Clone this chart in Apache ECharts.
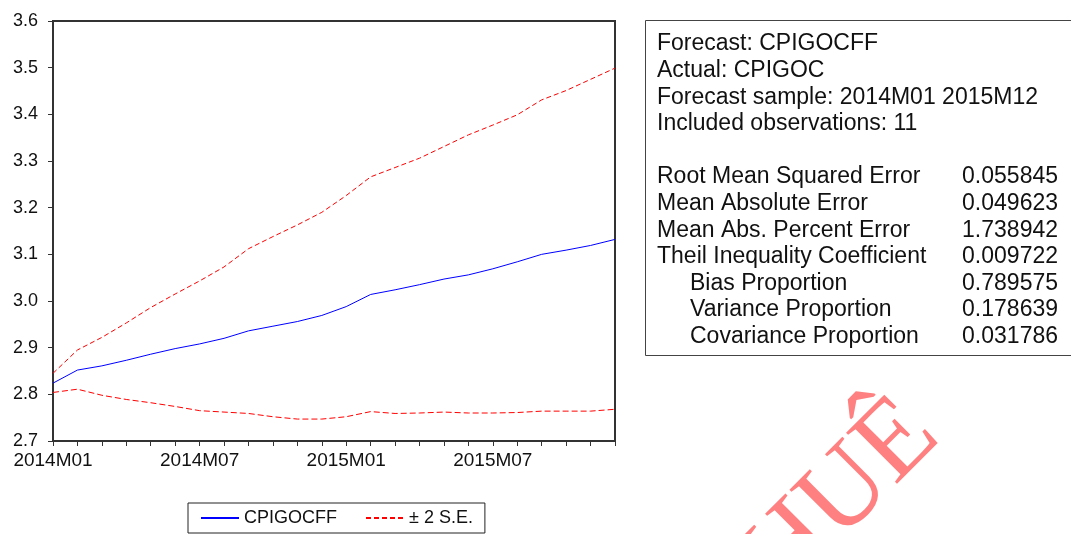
<!DOCTYPE html>
<html>
<head>
<meta charset="utf-8">
<script src="https://cdn.jsdelivr.net/npm/echarts@6/dist/echarts.min.js"></script>
<style>
html,body{margin:0;padding:0;background:#fff;}
#chart{width:1071px;height:534px;}
</style>
</head>
<body>
<div id="chart"></div>
<script>
// ---- data ----
const months = ['2014M01','2014M02','2014M03','2014M04','2014M05','2014M06','2014M07','2014M08','2014M09','2014M10','2014M11','2014M12',
                '2015M01','2015M02','2015M03','2015M04','2015M05','2015M06','2015M07','2015M08','2015M09','2015M10','2015M11','2015M12'];
const forecast = [2.824,2.852,2.861,2.873,2.886,2.898,2.908,2.920,2.936,2.946,2.956,2.969,
                  2.988,3.014,3.024,3.035,3.047,3.056,3.069,3.084,3.100,3.109,3.119,3.132];
const upperSE  = [2.845,2.895,2.922,2.953,2.986,3.015,3.043,3.073,3.112,3.138,3.163,3.190,
                  3.226,3.266,3.286,3.306,3.331,3.356,3.377,3.399,3.431,3.451,3.475,3.499];
const lowerSE  = [2.804,2.811,2.798,2.789,2.782,2.774,2.765,2.762,2.759,2.752,2.747,2.747,
                  2.752,2.763,2.759,2.760,2.762,2.760,2.760,2.761,2.764,2.764,2.764,2.768];
const headerLines = ['Forecast: CPIGOCFF','Actual: CPIGOC','Forecast sample: 2014M01 2015M12','Included observations: 11'];
const statNames  = ['Root Mean Squared Error','Mean Absolute Error','Mean Abs. Percent Error','Theil Inequality Coefficient',
                    'Bias Proportion','Variance Proportion','Covariance Proportion'];
const statIndent = [false,false,false,false,true,true,true];
const statValues = ['0.055845','0.049623','1.738942','0.009722','0.789575','0.178639','0.031786'];
const watermark = 'HUÊ';

// ---- chart ----
const FONT = '"Liberation Sans", Arial, sans-serif';
const chart = echarts.init(document.getElementById('chart'), null, {renderer:'canvas'});

const panelEls = [];
panelEls.push({type:'text', x:842, y:498, rotation:Math.PI/4, z:-10,
  style:{text:watermark, font:'110px "Liberation Serif", "DejaVu Serif", serif', fill:'#ff8080', align:'center', verticalAlign:'middle'}});
panelEls.push({type:'rect', shape:{x:645.5, y:20.5, width:440, height:335}, style:{fill:'#fff', stroke:'#444', lineWidth:1}});
const lineH = 26.6;
headerLines.forEach((t,i)=>{
  panelEls.push({type:'text', x:657, y:44 + i*lineH, style:{text:t, font:'23px ' + FONT, fill:'#111', verticalAlign:'middle', align:'left'}});
});
statNames.forEach((t,i)=>{
  const y = 177 + i*lineH;
  panelEls.push({type:'text', x: statIndent[i] ? 690 : 657, y:y, style:{text:t, font:'23px ' + FONT, fill:'#111', verticalAlign:'middle', align:'left'}});
  panelEls.push({type:'text', x:1058, y:y, style:{text:statValues[i], font:'23px ' + FONT, fill:'#111', verticalAlign:'middle', align:'right'}});
});

chart.setOption({
  animation:false,
  backgroundColor:'#fff',
  grid:{left:53, top:21, right:456, bottom:93, show:true, borderColor:'#333', borderWidth:2, backgroundColor:'transparent'},
  legend:{
    left:188, top:503, padding:[6,12,6,12], itemGap:28, itemWidth:38, itemHeight:12,
    borderColor:'#222', borderWidth:1,
    itemStyle:{opacity:0},
    data:['CPIGOCFF','± 2 S.E.'],
    textStyle:{fontSize:18, fontFamily:FONT, color:'#111'}
  },
  xAxis:{
    type:'category', data:months, boundaryGap:false,
    axisLine:{lineStyle:{color:'#333', width:2}},
    axisTick:{interval:0, length:5, lineStyle:{color:'#333'}},
    axisLabel:{interval:5, fontSize:19, fontFamily:FONT, color:'#111', margin:10}
  },
  yAxis:{
    type:'value', min:2.7, max:3.6, interval:0.1,
    axisLine:{show:true, lineStyle:{color:'#333', width:2}},
    axisTick:{show:true, length:5, lineStyle:{color:'#333'}},
    splitLine:{show:false},
    axisLabel:{fontSize:18, fontFamily:FONT, color:'#111', margin:15, formatter:v=>v.toFixed(1)}
  },
  series:[
    {name:'CPIGOCFF', type:'line', data:forecast, symbol:'none', lineStyle:{color:'#0000ff', width:1}, itemStyle:{color:'#0000ff'}},
    {name:'± 2 S.E.', type:'line', data:upperSE, symbol:'none', lineStyle:{color:'#ff0000', width:1, type:[5,3]}, itemStyle:{color:'#ff0000'}},
    {name:'± 2 S.E.', type:'line', data:lowerSE, symbol:'none', lineStyle:{color:'#ff0000', width:1, type:[6,3]}, itemStyle:{color:'#ff0000'}}
  ],
  graphic:panelEls
});
</script>
</body>
</html>
